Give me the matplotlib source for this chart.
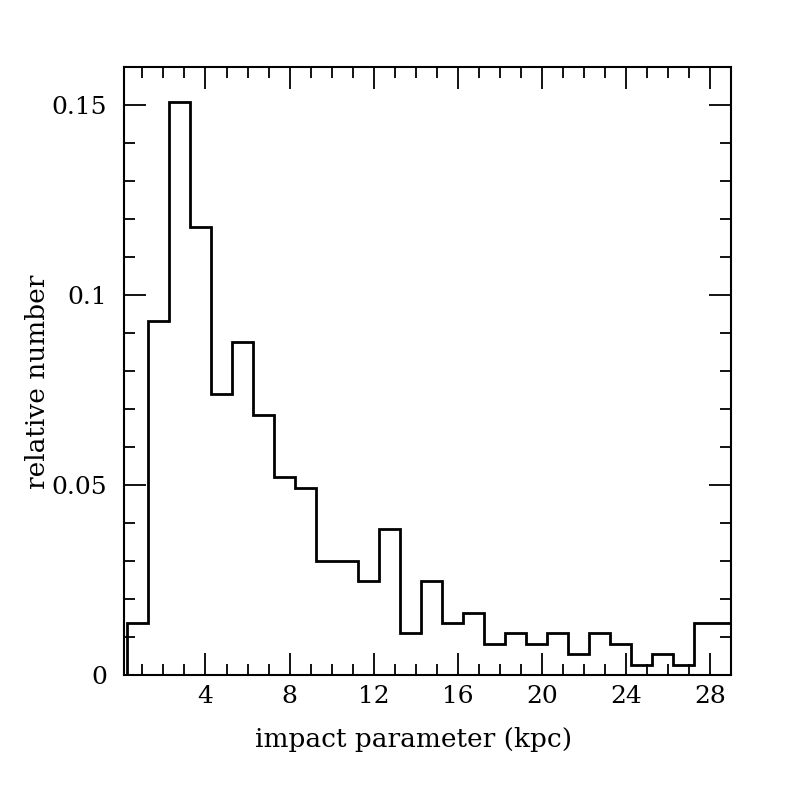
import matplotlib
matplotlib.use("Agg")
import matplotlib.pyplot as plt
from matplotlib.ticker import MultipleLocator, FixedLocator, FixedFormatter

# histogram bin edges (kpc) and relative numbers
bin_edges = [0.25 + i for i in range(30)]
rel_number = [0.0137, 0.0932, 0.1507, 0.1178, 0.0740, 0.0877, 0.0685, 0.0521,
              0.0493, 0.0301, 0.0301, 0.0247, 0.0384, 0.0110, 0.0247, 0.0137,
              0.0164, 0.0082, 0.0110, 0.0082, 0.0110, 0.0055, 0.0110, 0.0082,
              0.0027, 0.0055, 0.0027, 0.0137, 0.0137]
x_ticks = [4, 8, 12, 16, 20, 24, 28]
y_ticks = [0, 0.05, 0.1, 0.15]
y_tick_labels = ["0", "0.05", "0.1", "0.15"]

plt.rcParams["font.family"] = "DejaVu Serif"

fig = plt.figure(figsize=(7.97, 7.97), dpi=100)
ax = fig.add_axes([0.155, 0.1527, 0.762, 0.7636])

ax.stairs(rel_number, bin_edges, color="black", linewidth=2)

ax.set_xlim(0.1, 29)
ax.set_ylim(0, 0.16)

ax.xaxis.set_major_locator(FixedLocator(x_ticks))
ax.xaxis.set_minor_locator(MultipleLocator(1))
ax.yaxis.set_major_locator(FixedLocator(y_ticks))
ax.yaxis.set_major_formatter(FixedFormatter(y_tick_labels))
ax.yaxis.set_minor_locator(MultipleLocator(0.01))

ax.tick_params(which="both", direction="in", top=True, right=True, width=1.3,
               labelsize=18)
ax.tick_params(axis="x", pad=7)
ax.tick_params(axis="y", pad=12)
ax.tick_params(which="major", length=16)
ax.tick_params(which="minor", length=8)
for s in ax.spines.values():
    s.set_linewidth(1.5)

ax.set_xlabel("impact parameter (kpc)", fontsize=19, va="center")
ax.set_ylabel("relative number", fontsize=19, va="center")
ax.xaxis.set_label_coords(0.478, -0.106)
ax.yaxis.set_label_coords(-0.142, 0.482)

fig.savefig("out.png", dpi=100)
